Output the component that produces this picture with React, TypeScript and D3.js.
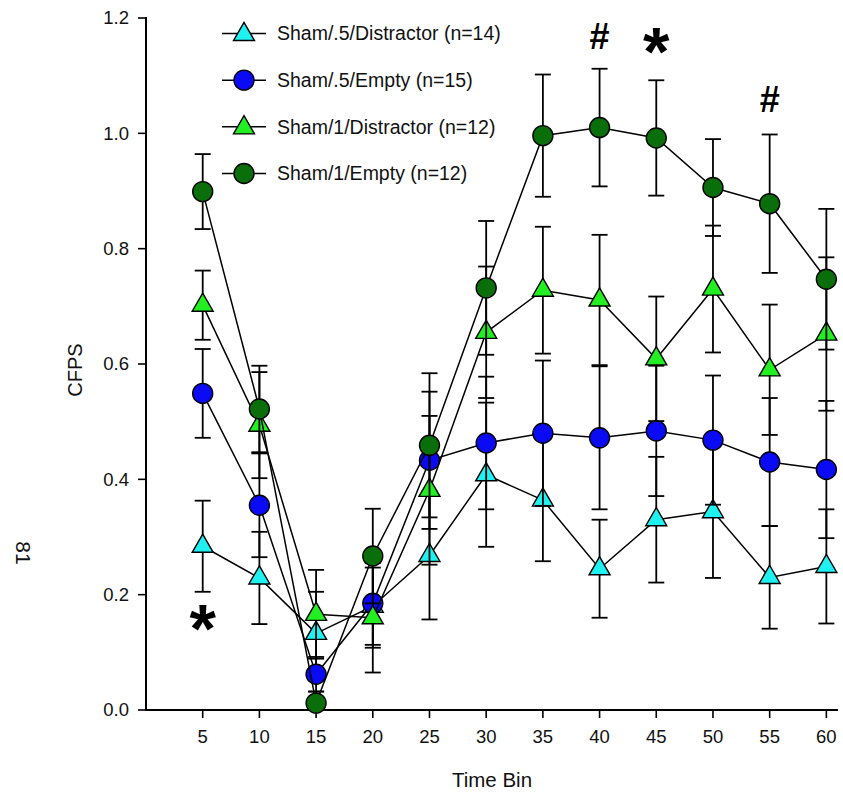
import React from "react";
import * as d3 from "d3";

const bins = [5, 10, 15, 20, 25, 30, 35, 40, 45, 50, 55, 60];
const yTicks = [0, 0.2, 0.4, 0.6, 0.8, 1.0, 1.2];

const cyanMean = [0.284, 0.229, 0.133, 0.18, 0.268, 0.408, 0.364, 0.245, 0.33, 0.344, 0.23, 0.249];
const cyanSe = [0.079, 0.08, 0.072, 0.067, 0.111, 0.125, 0.106, 0.085, 0.109, 0.115, 0.089, 0.099];

const blueMean = [0.549, 0.355, 0.062, 0.185, 0.433, 0.463, 0.48, 0.472, 0.484, 0.468, 0.43, 0.417];
const blueSe = [0.077, 0.09, 0.03, 0.077, 0.119, 0.115, 0.126, 0.124, 0.113, 0.112, 0.111, 0.119];

const greenMean = [0.702, 0.494, 0.166, 0.16, 0.381, 0.655, 0.728, 0.711, 0.609, 0.73, 0.59, 0.652];
const greenSe = [0.06, 0.092, 0.077, 0.095, 0.129, 0.114, 0.11, 0.113, 0.108, 0.11, 0.113, 0.133];

const darkMean = [0.899, 0.522, 0.012, 0.267, 0.459, 0.732, 0.996, 1.01, 0.992, 0.906, 0.878, 0.747];
const darkSe = [0.065, 0.075, 0.02, 0.082, 0.125, 0.116, 0.106, 0.102, 0.1, 0.084, 0.12, 0.122];

const seriesNames = [
  "Sham/.5/Distractor (n=14)",
  "Sham/.5/Empty (n=15)",
  "Sham/1/Distractor (n=12)",
  "Sham/1/Empty (n=12)",
];
const seriesColors = ["#1ff0f0", "#0a0af5", "#22ee22", "#0a6e0a"];
const seriesShapes = ["triangle", "circle", "triangle", "circle"];
const seriesMeans = [cyanMean, blueMean, greenMean, darkMean];
const seriesSes = [cyanSe, blueSe, greenSe, darkSe];

const annotations = [
  { bin: 5, value: 0.167, label: "*" },
  { bin: 40, value: 1.168, label: "#" },
  { bin: 45, value: 1.167, label: "*" },
  { bin: 55, value: 1.06, label: "#" },
];

const FONT = "'Liberation Sans', Arial, sans-serif";

function Marker({ shape, cx, cy, fill }: { shape: string; cx: number; cy: number; fill: string }) {
  if (shape === "circle") {
    return <circle cx={cx} cy={cy} r={10} fill={fill} stroke="#000" strokeWidth={1.4} />;
  }
  const s = 21;
  const h = (s * Math.sqrt(3)) / 2;
  const p = `M${cx},${cy - (2 * h) / 3}L${cx + s / 2},${cy + h / 3}L${cx - s / 2},${cy + h / 3}Z`;
  return <path d={p} fill={fill} stroke="#000" strokeWidth={1.4} />;
}

export default function App() {
  const x = d3.scaleLinear().domain([0, 61]).range([146, 837.7]);
  const y = d3.scaleLinear().domain([0, 1.2]).range([710, 18]);
  const fmt = d3.format(".1f");
  const line = d3
    .line<[number, number]>()
    .x((d) => x(d[0]))
    .y((d) => y(d[1]));

  const legendY = d3.scaleLinear().domain([0, 3]).range([33.5, 173.5]);

  return (
    <svg
      width={843}
      height={796}
      style={{ position: "absolute", left: 0, top: 0, background: "#fff" }}
      fontFamily={FONT}
    >
      <rect width={843} height={796} fill="#fff" />
      {/* axes */}
      <line x1={146} x2={146} y1={17} y2={711} stroke="#000" strokeWidth={2} />
      <line x1={145} x2={838} y1={710} y2={710} stroke="#000" strokeWidth={2} />
      {yTicks.map((t) => (
        <g key={"y" + t}>
          <line x1={138} x2={146} y1={y(t)} y2={y(t)} stroke="#000" strokeWidth={1.6} />
          <text x={129} y={y(t)} dy="0.35em" textAnchor="end" fontSize={18.5} fill="#111">
            {fmt(t)}
          </text>
        </g>
      ))}
      {bins.map((b) => (
        <g key={"x" + b}>
          <line x1={x(b)} x2={x(b)} y1={710} y2={718} stroke="#000" strokeWidth={1.6} />
          <text x={x(b)} y={743} textAnchor="middle" fontSize={18.5} fill="#111">
            {b}
          </text>
        </g>
      ))}
      <text x={492} y={787} textAnchor="middle" fontSize={20.5} fill="#111">
        Time Bin
      </text>
      <text
        transform={`translate(82,370) rotate(-90)`}
        textAnchor="middle"
        fontSize={20}
        fill="#111"
      >
        CFPS
      </text>
      <text transform={`translate(16,553) rotate(90)`} textAnchor="middle" fontSize={21} fill="#111">
        81
      </text>

      {/* series */}
      {seriesMeans.map((means, si) => {
        const ses = seriesSes[si];
        const pts: [number, number][] = bins.map((b, i) => [b, means[i]]);
        return (
          <g key={"s" + si}>
            {bins.map((b, i) => {
              const cx = x(b);
              const top = y(means[i] + ses[i]);
              const bot = y(means[i] - ses[i]);
              return (
                <g key={"e" + i} stroke="#000" strokeWidth={1.8}>
                  <line x1={cx} x2={cx} y1={top} y2={Math.min(bot, 710)} />
                  <line x1={cx - 8} x2={cx + 8} y1={top} y2={top} />
                  {bot <= 710 && <line x1={cx - 8} x2={cx + 8} y1={bot} y2={bot} />}
                </g>
              );
            })}
            <path d={line(pts) || ""} fill="none" stroke="#000" strokeWidth={1.5} />
            {pts.map((p, i) => (
              <Marker
                key={"m" + i}
                shape={seriesShapes[si]}
                cx={x(p[0])}
                cy={y(p[1])}
                fill={seriesColors[si]}
              />
            ))}
          </g>
        );
      })}

      {/* legend */}
      {seriesNames.map((name, i) => (
        <g key={"l" + i}>
          <line x1={222} x2={266} y1={legendY(i)} y2={legendY(i)} stroke="#000" strokeWidth={1.5} />
          <Marker
            shape={seriesShapes[i]}
            cx={244}
            cy={seriesShapes[i] === "triangle" ? legendY(i) + 1 : legendY(i)}
            fill={seriesColors[i]}
          />
          <text x={277} y={legendY(i)} dy="0.35em" fontSize={19.5} fill="#111">
            {name}
          </text>
        </g>
      ))}

      {/* significance marks */}
      {annotations.map((a, i) =>
        a.label === "*" ? (
          <text
            key={"a" + i}
            x={x(a.bin)}
            y={y(a.value) + 38}
            textAnchor="middle"
            fontSize={68}
            fontWeight="bold"
            fill="#000"
          >
            {a.label}
          </text>
        ) : (
          <text
            key={"a" + i}
            x={x(a.bin)}
            y={y(a.value) + 13}
            textAnchor="middle"
            fontSize={36}
            fontWeight="bold"
            fill="#000"
          >
            {a.label}
          </text>
        )
      )}
    </svg>
  );
}
